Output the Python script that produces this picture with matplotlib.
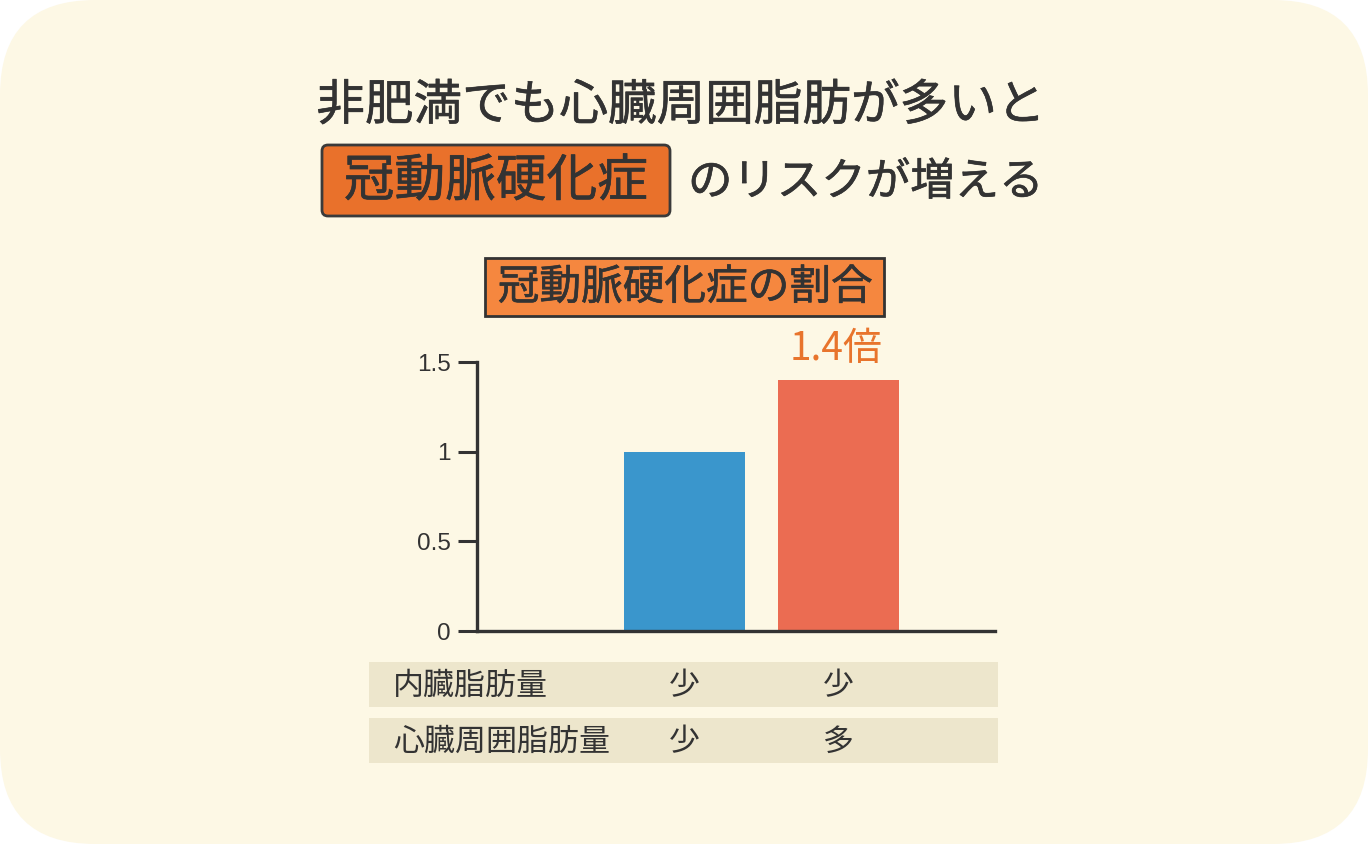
import numpy as np
import matplotlib
matplotlib.use("Agg")
import matplotlib.pyplot as plt
import matplotlib.transforms as mtransforms
import matplotlib.patheffects as pe
from matplotlib.patches import FancyBboxPatch, Rectangle

plt.rcParams['font.family'] = ['Noto Sans CJK JP', 'DejaVu Sans']

# data
ratio = [1.0, 1.4]
ratio_labels = ['', '1.4倍']
bar_colors = ['#3A96CC', '#EB6C52']
row_names = ['内臓脂肪量', '心臓周囲脂肪量']
visceral = ['少', '少']
pericardial = ['少', '多']
yticks = [0, 0.5, 1, 1.5]
ytick_labels = ['0', '0.5', '1', '1.5']

W, H = 1368, 844
dark = '#333333'
# a thin outline makes the regular face look a little heavier
medium = [pe.withStroke(linewidth=0.45, foreground=dark)]

fig = plt.figure(figsize=(W / 100, H / 100), dpi=100, facecolor='white')

# background axes in pixel coordinates (y downwards)
bg = fig.add_axes([0, 0, 1, 1])
bg.set_xlim(0, W)
bg.set_ylim(H, 0)
bg.axis('off')

bg.add_patch(FancyBboxPatch((0, 0), W, H, boxstyle='round,pad=0,rounding_size=95',
                            facecolor='#FDF8E5', edgecolor='none'))

# headline
bg.text(681, 106, '非肥満でも心臓周囲脂肪が多いと', fontsize=35, color=dark,
        ha='center', va='center', path_effects=medium)
bg.add_patch(FancyBboxPatch((322, 145), 348, 71, boxstyle='round,pad=0,rounding_size=6',
                            facecolor='#E9712B', edgecolor='#3a3a3a', linewidth=2))
bg.text(496, 182, '冠動脈硬化症', fontsize=36.5, color=dark, ha='center', va='center',
        path_effects=medium)
bg.text(688, 182, 'のリスクが増える', fontsize=32, color=dark, ha='left', va='center',
        path_effects=medium)

# chart title
bg.add_patch(Rectangle((485, 258), 399, 58, facecolor='#F5873F', edgecolor='#333333',
                       linewidth=2))
bg.text(685, 288, '冠動脈硬化症の割合', fontsize=30, color=dark, ha='center', va='center',
        path_effects=medium)

# bar chart
ax = fig.add_axes([477 / W, (H - 631) / H, (995 - 477) / W, (631 - 362) / H])
ax.patch.set_alpha(0)
x = np.arange(len(ratio))
ax.bar(x, ratio, width=0.785, color=bar_colors)
ax.set_xlim(-1.347, 2.017)
ax.set_ylim(0, 1.5)
ax.set_yticks(yticks)
ax.set_yticklabels(ytick_labels, fontsize=17.5, color=dark, family='Liberation Sans')
ax.set_xticks([])
ax.tick_params(axis='y', length=14, width=2.2, color=dark, pad=5)
for s in ['top', 'right']:
    ax.spines[s].set_visible(False)
for s in ['left', 'bottom']:
    ax.spines[s].set_linewidth(2.4)
    ax.spines[s].set_color(dark)

for xi, v, lab in zip(x, ratio, ratio_labels):
    if lab:
        ax.annotate(lab, (xi, v), xytext=(-2, 8), textcoords='offset points',
                    ha='center', va='bottom', fontsize=28, color='#E8742C')

# table under the chart
trans = mtransforms.blended_transform_factory(ax.transData, bg.transData)
row_y = [685, 741]
for ry, name, vals in zip(row_y, row_names, [visceral, pericardial]):
    bg.add_patch(Rectangle((369, ry - 23), 629, 45, facecolor='#EDE6CC', edgecolor='none'))
    bg.text(393, ry + 1, name, fontsize=22.3, color=dark, ha='left', va='center')
    for xi, v in zip(x, vals):
        ax.text(xi, ry + 1, v, transform=trans, fontsize=22.3, color=dark,
                ha='center', va='center')

fig.savefig('out.png', dpi=100, facecolor='white')
